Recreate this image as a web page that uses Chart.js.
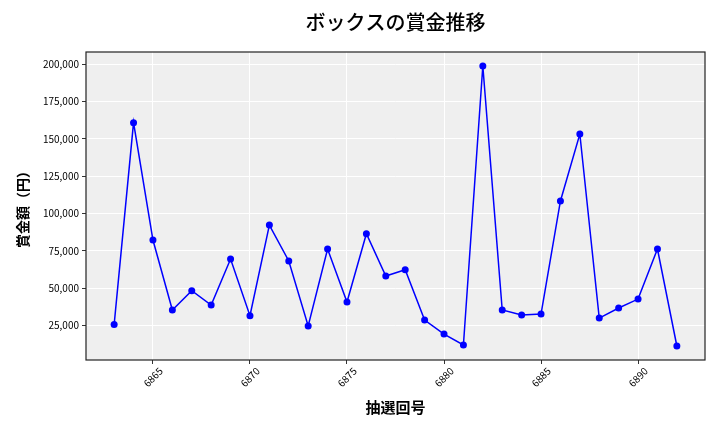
<!DOCTYPE html>
<html><head><meta charset="utf-8">
<script src="https://cdn.jsdelivr.net/npm/chart.js@4"></script>
<style>html,body{margin:0;padding:0;background:#fff;}#wrap{width:720px;height:432px;}</style>
</head><body><div id="wrap"><canvas id="c" width="720" height="432"></canvas></div>
<script>
const draws = [6863,6864,6865,6866,6867,6868,6869,6870,6871,6872,6873,6874,6875,6876,6877,6878,6879,6880,6881,6882,6883,6884,6885,6886,6887,6888,6889,6890,6891,6892];
const prizes = [25700,160800,82300,35500,48400,38800,69600,31700,92300,68300,24800,76300,40800,86500,58200,62400,28800,19400,12100,198700,35500,32100,32800,108400,153200,30100,36800,42800,76300,11400];
const xTicks = [6865,6870,6875,6880,6885,6890];
const yTicks = [25000,50000,75000,100000,125000,150000,175000,200000];
const titleText = 'ボックスの賞金推移';
const xTitle = '抽選回号';
const yTitle = '賞金額（円）';

const FONT = '"Noto Sans CJK JP", "Noto Sans", sans-serif';
const xMin = draws[0] - (draws[draws.length-1]-draws[0])*0.05;
const xMax = draws[draws.length-1] + (draws[draws.length-1]-draws[0])*0.05;
const yLo = Math.min(...prizes), yHi = Math.max(...prizes);
const yMin = yLo - (yHi-yLo)*0.05, yMax = yHi + (yHi-yLo)*0.05;

const bgPlugin = {
  id: 'bg',
  beforeDraw(chart) {
    const {ctx, chartArea: a} = chart;
    ctx.save(); ctx.fillStyle = '#EFEFEF';
    ctx.fillRect(a.left, a.top, a.right-a.left, a.bottom-a.top); ctx.restore();
  },
  afterDatasetsDraw(chart) {
    const {ctx, chartArea: a} = chart;
    ctx.save(); ctx.strokeStyle = '#222'; ctx.lineWidth = 1.2;
    ctx.strokeRect(a.left, a.top, a.right-a.left, a.bottom-a.top); ctx.restore();
  }
};

new Chart(document.getElementById('c'), {
  type: 'line',
  data: { datasets: [{
    data: draws.map((d,i)=>({x:d, y:prizes[i]})),
    borderColor: '#0000FF', backgroundColor: '#0000FF',
    borderWidth: 1.5, pointRadius: 3.5, pointHoverRadius: 3.5,
    pointBackgroundColor: '#0000FF', pointBorderWidth: 0, tension: 0, clip: false
  }]},
  options: {
    responsive: false, animation: false, devicePixelRatio: 1,
    layout: { padding: { left: 0, right: 15, top: 0, bottom: 0 } },
    plugins: {
      legend: { display: false }, tooltip: { enabled: false },
      title: { display: true, fullSize: false, text: titleText, color: '#000',
        font: { family: FONT, size: 20, weight: '500', lineHeight: 1.2 },
        padding: { top: 10, bottom: 18 } }
    },
    scales: {
      x: {
        type: 'linear', min: xMin, max: xMax,
        afterBuildTicks(s) { s.ticks = xTicks.map(v=>({value:v})); },
        afterFit(s) { s.height = 72; },
        grid: { color: '#FFFFFF', lineWidth: 1, tickColor: '#333', tickLength: 4, drawTicks: true },
        border: { display: false },
        ticks: { color: '#000', font: { family: FONT, size: 10 }, minRotation: 45, maxRotation: 45,
          padding: 1, labelOffset: 8, callback: v => String(v) },
        title: { display: true, text: xTitle, color: '#000',
          font: { family: FONT, size: 15, weight: 'bold', lineHeight: 1.2 }, padding: { top: 0, bottom: 16 } }
      },
      y: {
        min: yMin, max: yMax,
        afterBuildTicks(s) { s.ticks = yTicks.map(v=>({value:v})); },
        afterFit(s) { s.width = 86; },
        grid: { color: '#FFFFFF', lineWidth: 1, tickColor: '#333', tickLength: 4, drawTicks: true },
        border: { display: false },
        ticks: { color: '#000', font: { family: FONT, size: 10 }, padding: 3,
          callback: v => Number(v).toLocaleString('en-US') },
        title: { display: true, text: yTitle, color: '#000',
          font: { family: FONT, size: 14, weight: 'bold', lineHeight: 1.2 }, padding: { top: 14, bottom: 0 } }
      }
    }
  },
  plugins: [bgPlugin]
});
</script></body></html>
